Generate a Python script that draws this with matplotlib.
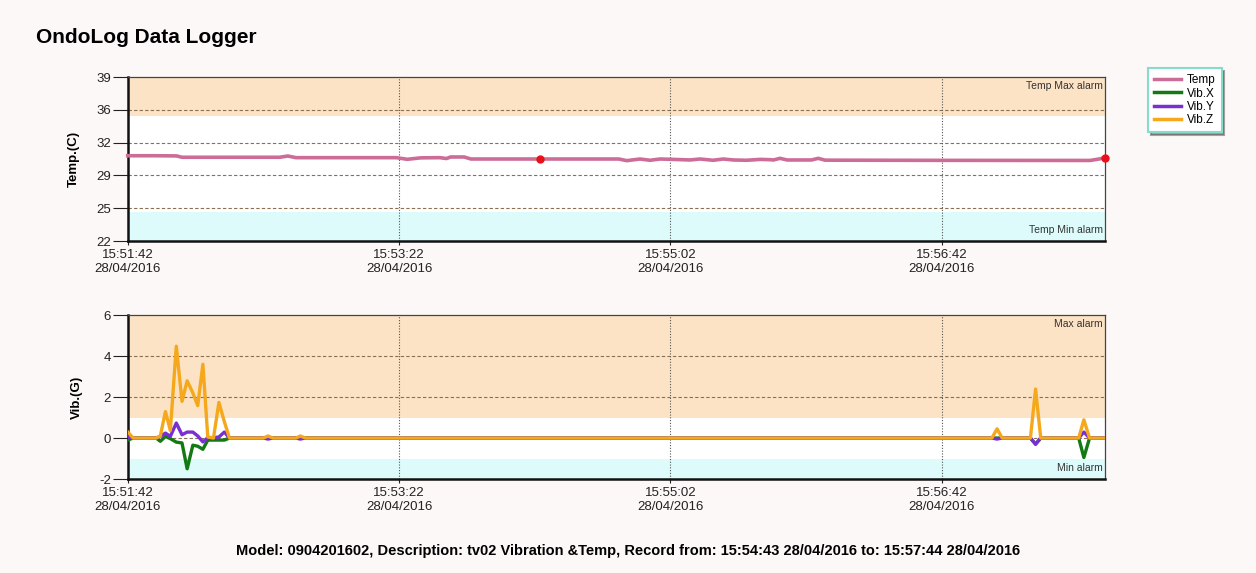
"""OndoLog data logger chart: temperature and vibration over time."""
import matplotlib.pyplot as plt
from matplotlib.lines import Line2D

plt.rcParams['font.family'] = ['Liberation Sans', 'DejaVu Sans']

# x tick labels (seconds from 15:51:42)
tick_secs = [0, 100, 200, 300]
tick_labels = ['15:51:42\n28/04/2016', '15:53:22\n28/04/2016',
               '15:55:02\n28/04/2016', '15:56:42\n28/04/2016']

# temperature samples (seconds, deg C)
temp_t = [0, 10, 18, 20, 56, 59, 62, 99, 103, 108, 115, 117.5, 119, 124, 126.5,
          151.8, 181, 183.9, 188.8, 192.5, 196.2, 201.1, 207.3, 210.9, 215.8,
          219.5, 223.2, 228.1, 233.1, 236.7, 238, 240.4, 243, 252, 254.5, 257,
          300, 354.7, 358, 360.2]
temp_v = [30.84, 30.84, 30.82, 30.68, 30.68, 30.81, 30.64, 30.64, 30.47, 30.62,
          30.64, 30.55, 30.71, 30.71, 30.5, 30.5, 30.5, 30.33, 30.5, 30.37, 30.5,
          30.46, 30.4, 30.5, 30.37, 30.5, 30.4, 30.37, 30.46, 30.43, 30.4, 30.57,
          30.4, 30.4, 30.57, 30.38, 30.36, 30.35, 30.5, 30.64]
alarm_t = [151.8, 360.2]
alarm_v = [30.5, 30.64]

# vibration samples (seconds, G)
vib_t = [0, 2, 10.5, 12, 13.9, 15.7, 17.9, 20, 21.9, 24, 25.8, 27.7, 29.5, 31.6,
         33.6, 35.6, 37.5, 50, 51.7, 53.5, 62, 63.6, 65.5, 318.5, 320.4, 322.3,
         332.7, 334.6, 336.5, 350.5, 352.4, 354.5, 360.2]
vib_x = [-0.1, 0, 0, -0.16, 0.08, -0.03, -0.2, -0.24, -1.5, -0.35, -0.4, -0.55,
         -0.1, -0.1, -0.1, -0.1, 0, 0, 0, 0, 0, 0, 0, 0, 0, 0,
         0, -0.3, 0, 0, -0.95, 0, 0]
vib_y = [0.05, 0, 0, 0.08, 0.24, 0.08, 0.73, 0.16, 0.29, 0.29, 0.1, -0.19,
         0.02, 0.02, 0.05, 0.29, 0, 0, -0.05, 0, 0, -0.05, 0, 0, -0.05, 0,
         0, -0.3, 0, 0, 0.29, 0, 0]
vib_z = [0.3, 0, 0, 0.1, 1.29, 0.37, 4.48, 1.79, 2.79, 2.2, 1.58, 3.6, 0.05,
         0, 1.74, 0.8, 0, 0, 0.1, 0, 0, 0.1, 0, 0, 0.45, 0,
         0, 2.39, 0, 0, 0.89, 0, 0]

bg = '#fcf8f7'
orange_band = '#fde3c6'
cyan_band = '#ddfbfb'
grid_c = '#8a7050'

fig = plt.figure(figsize=(12.56, 5.73), dpi=100, facecolor=bg)
ax1 = fig.add_axes([0.1017, 0.5794, 0.7781, 0.2862])
ax2 = fig.add_axes([0.1017, 0.1640, 0.7781, 0.2862])


def style_axis(ax, ylim, yticks, ylabels, ylab, hi, lo, hi_txt, lo_txt):
    ax.set_facecolor('white')
    ax.set_xlim(0, 360.2)
    ax.set_ylim(*ylim)
    ax.axhspan(hi, ylim[1], color=orange_band, lw=0, zorder=0)
    ax.axhspan(ylim[0], lo, color=cyan_band, lw=0, zorder=0)
    for y in yticks[1:-1]:
        ax.axhline(y, color=grid_c, lw=0.8, ls=(0, (3, 2)), zorder=1)
    for x in tick_secs[1:]:
        ax.axvline(x, color='#555555', lw=0.8, ls=(0, (1, 1.5)), zorder=1)
    ax.set_yticks(yticks)
    ax.set_yticklabels(ylabels)
    ax.set_xticks(tick_secs)
    ax.set_xticklabels(tick_labels, linespacing=1.2)
    ax.tick_params(axis='both', labelsize=9.5, colors='#222222', width=0.8)
    ax.tick_params(axis='y', length=11, pad=1)
    ax.tick_params(axis='x', length=3, pad=3)
    ax.set_ylabel(ylab, fontsize=9.5, fontweight='bold', labelpad=12)
    for side in ['left', 'bottom']:
        ax.spines[side].set_linewidth(1.8)
        ax.spines[side].set_color('#111111')
    for side in ['top', 'right']:
        ax.spines[side].set_linewidth(0.9)
        ax.spines[side].set_color('#444444')
    ax.text(0.998, 0.975, hi_txt, transform=ax.transAxes, ha='right', va='top',
            fontsize=7.5, color='#333333')
    ax.text(0.998, 0.035, lo_txt, transform=ax.transAxes, ha='right', va='bottom',
            fontsize=7.5, color='#333333')


temp_ticks = [22, 25.4, 28.8, 32.2, 35.6, 39]
style_axis(ax1, (22, 39), temp_ticks, ['22', '25', '29', '32', '36', '39'],
           'Temp.(C)', 35.0, 25.0, 'Temp Max alarm', 'Temp Min alarm')
style_axis(ax2, (-2, 6), [-2, 0, 2, 4, 6], ['-2', '0', '2', '4', '6'],
           'Vib.(G)', 1.0, -1.0, 'Max alarm', 'Min alarm')

c_temp, c_x, c_y, c_z = '#cc6d98', '#137a13', '#7a2fd0', '#f5a81c'

ax1.plot(temp_t, temp_v, color=c_temp, lw=2.6, zorder=3, clip_on=False)
ax1.plot(alarm_t, alarm_v, 'o', color='#e8101a', ms=5, zorder=4, clip_on=False)

ax2.plot(vib_t, vib_x, color=c_x, lw=2.4, zorder=3)
ax2.plot(vib_t, vib_y, color=c_y, lw=2.4, zorder=4)
ax2.plot(vib_t, vib_z, color=c_z, lw=2.4, zorder=5)

fig.text(0.029, 0.935, 'OndoLog Data Logger', fontsize=15, fontweight='bold',
         ha='left', va='center')
fig.text(0.5, 0.038,
         'Model: 0904201602, Description: tv02 Vibration &Temp, '
         'Record from: 15:54:43 28/04/2016 to: 15:57:44 28/04/2016',
         fontsize=10.5, fontweight='bold', ha='center', va='center')

handles = [Line2D([], [], color=c, lw=2.5) for c in (c_temp, c_x, c_y, c_z)]
leg = fig.legend(handles, ['Temp', 'Vib.X', 'Vib.Y', 'Vib.Z'],
                 loc='upper left', bbox_to_anchor=(0.914, 0.881),
                 borderaxespad=0, fontsize=8.5, handlelength=2.3,
                 handletextpad=0.5, labelspacing=0.12, borderpad=0.5,
                 fancybox=False, framealpha=1, edgecolor='#86dccb', shadow=True)
leg.get_frame().set_linewidth(1.5)

fig.savefig('out.png', dpi=100, facecolor=bg)
